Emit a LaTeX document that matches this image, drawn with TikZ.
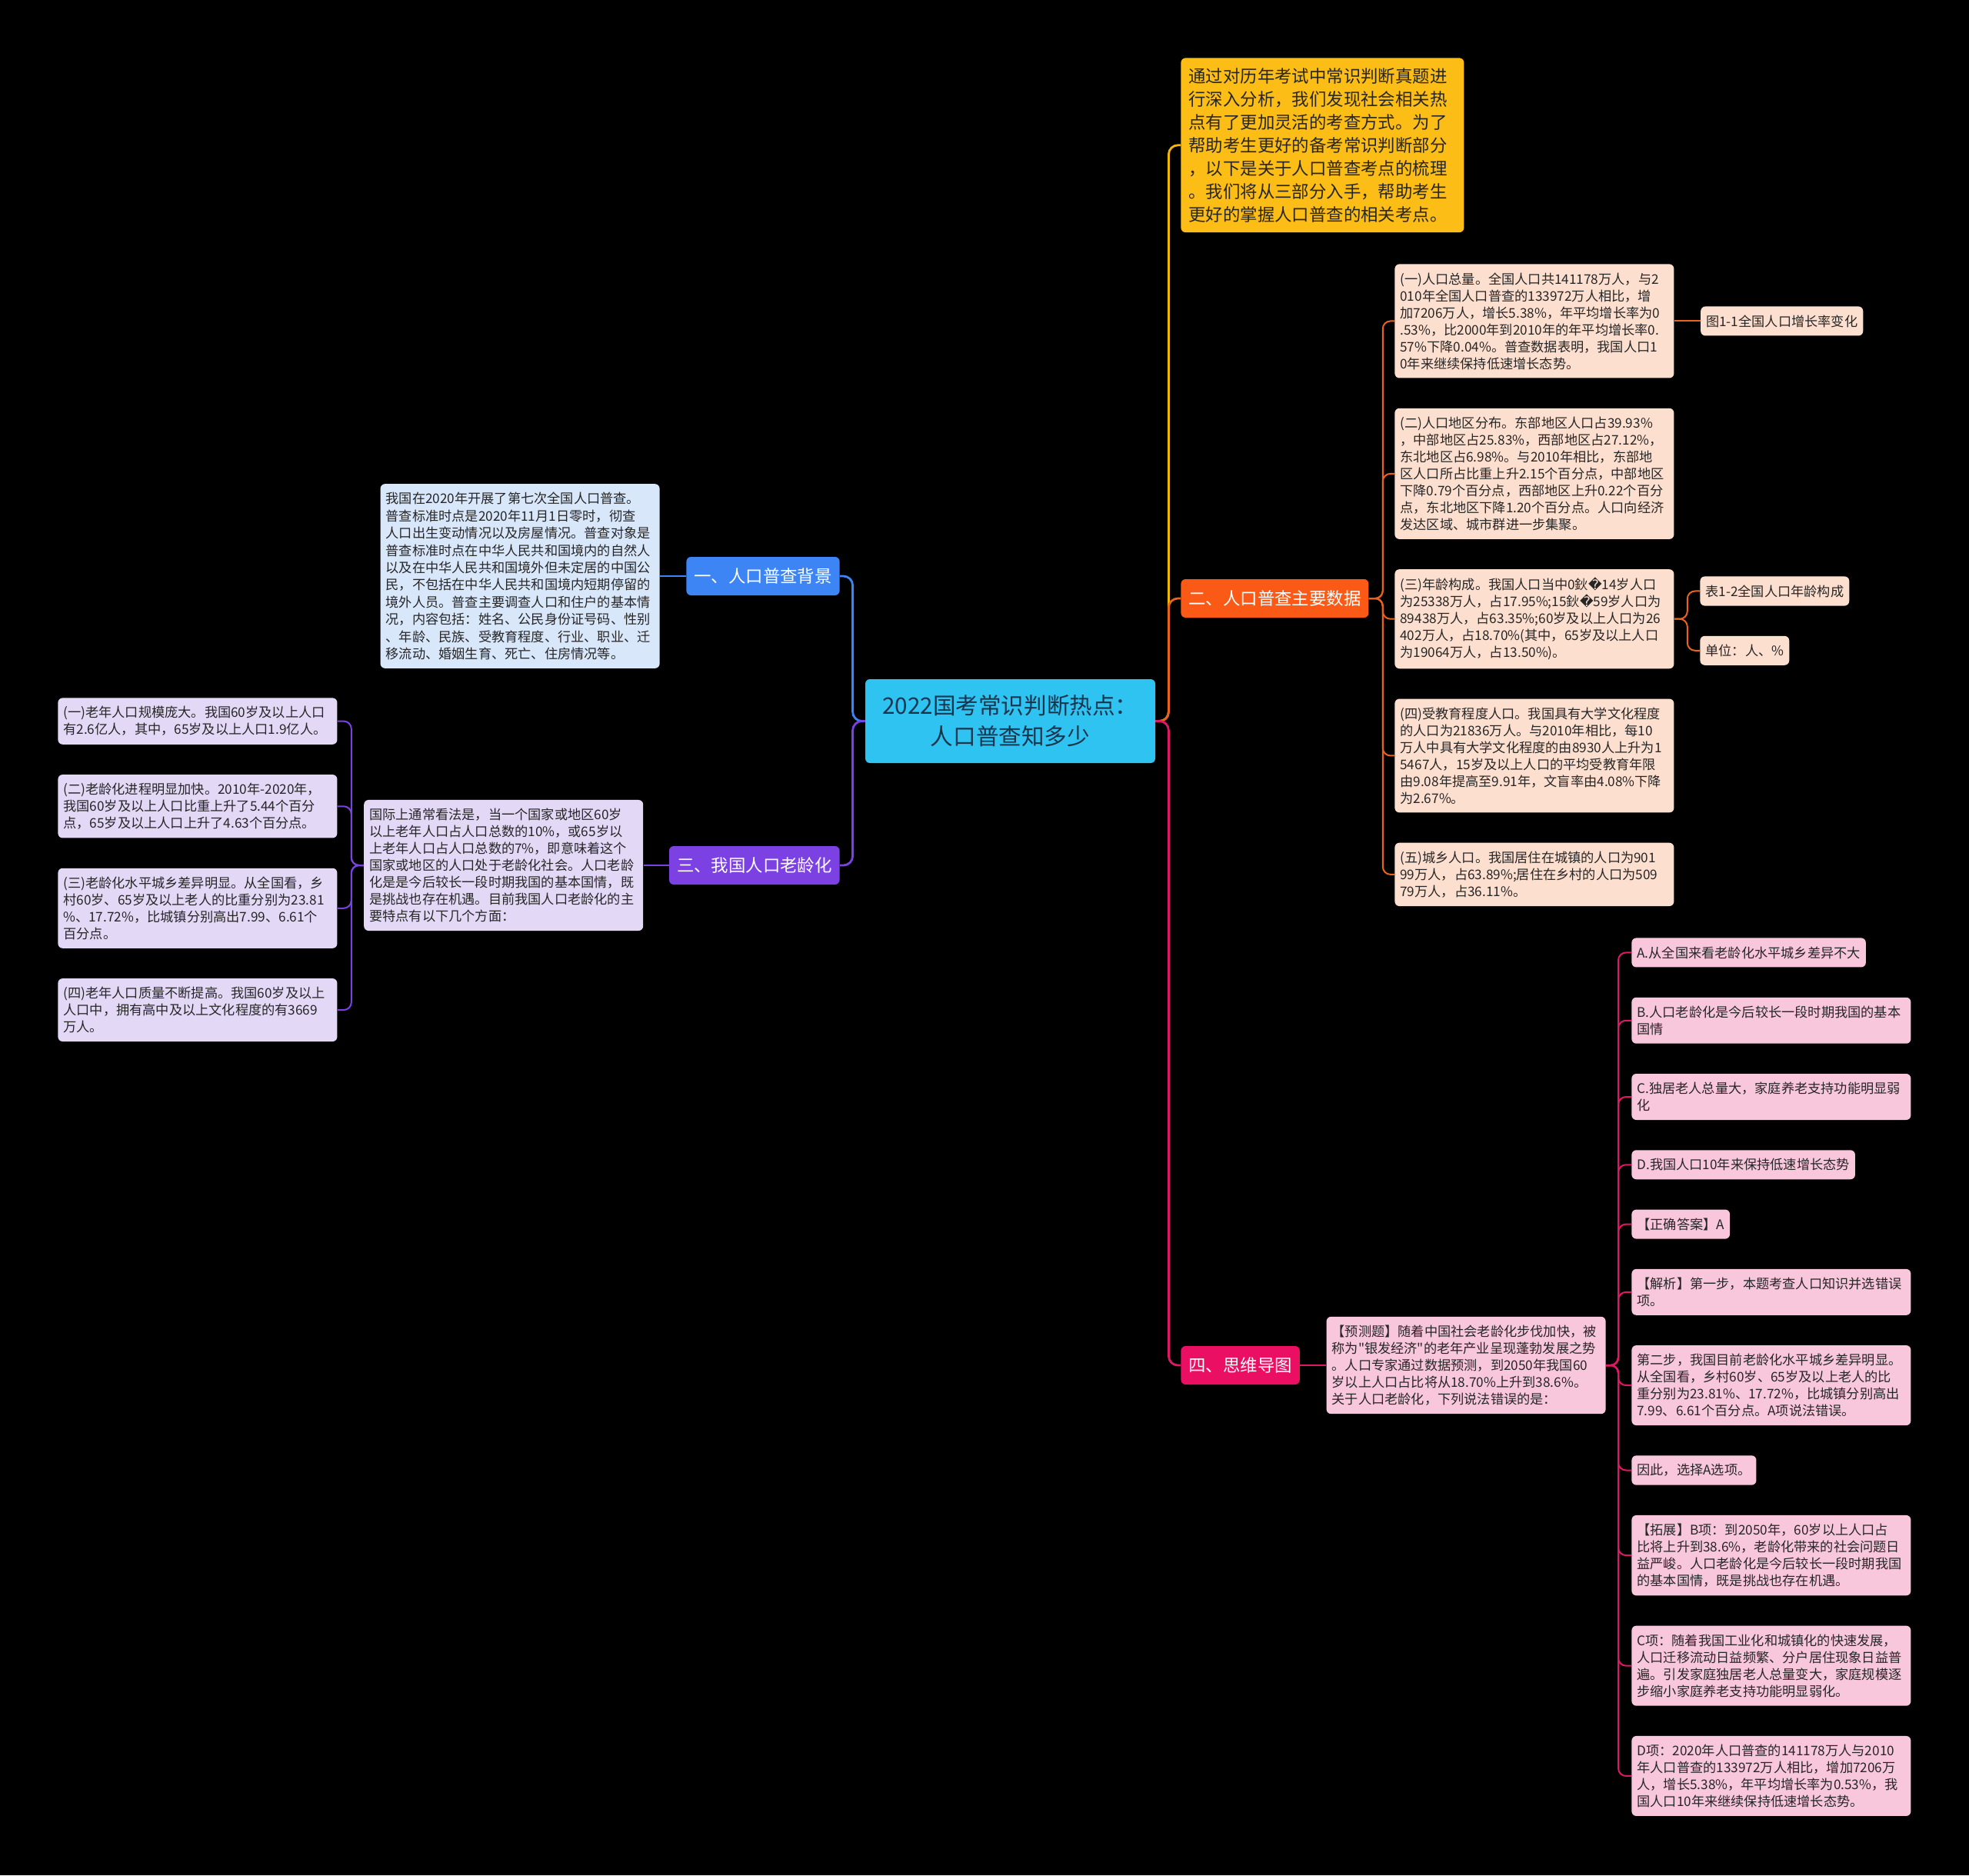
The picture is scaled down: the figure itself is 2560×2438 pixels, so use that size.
\documentclass[tikz,border=0pt]{standalone}
\usepackage{fontspec}
\setmainfont{Noto Sans CJK SC}[Ligatures=TeXOff]
\newfontfamily\symfont{DejaVu Sans}
\usepackage{xcolor}
\usetikzlibrary{positioning}

\definecolor{rootfill}{HTML}{2FC3F2}
\definecolor{roottext}{HTML}{17354C}
\definecolor{introfill}{HTML}{FBBD16}
\definecolor{introline}{HTML}{F2B705}
\definecolor{bluetopic}{HTML}{3D84F5}
\definecolor{bluenote}{HTML}{D9E7FB}
\definecolor{orangetopic}{HTML}{FA5A16}
\definecolor{orangenote}{HTML}{FDDFCF}
\definecolor{orangeline}{HTML}{E8631E}
\definecolor{purpletopic}{HTML}{7C41E3}
\definecolor{purplenote}{HTML}{E4D8F7}
\definecolor{pinktopic}{HTML}{EA0F63}
\definecolor{pinknote}{HTML}{F9C7DC}
\definecolor{pinkline}{HTML}{DC1867}
\definecolor{notetext}{HTML}{262626}

\newcommand{\badchar}{{\symfont\char"FFFD}}

\begin{document}
\begin{tikzpicture}[x=0.5pt, y=-0.5pt, node distance=19.25pt,
    root/.style={rectangle, rounded corners=3pt, fill=rootfill, text=roottext, minimum width=188.5pt, minimum height=54.5pt, align=center, font=\fontsize{14.8}{20}\selectfont},
    topic/.style={rectangle, rounded corners=3pt, text=white, minimum height=25pt, inner xsep=5pt, font=\fontsize{11.2}{13}\selectfont},
    note/.style={rectangle, rounded corners=3pt, text=notetext, align=left, inner xsep=3.5pt, inner ysep=5.5pt, font=\fontsize{8.6}{11}\selectfont},
    wide/.style={note, text width=174.5pt},
    link/.style={line width=1pt, rounded corners=5pt},
    trunk/.style={line width=1.4pt, rounded corners=6pt}]

    \fill[black] (0,0) rectangle (2560,2438);

    \node[root] (root) at (1313.5,937.5) {2022国考常识判断热点：\\人口普查知多少};

    % right side
    \node[note, fill=introfill, text width=174pt, inner xsep=5pt, inner ysep=6.5pt, font=\fontsize{11.2}{15}\selectfont, anchor=north west] (intro) at (1535,75) {通过对历年考试中常识判断真题进\\行深入分析，我们发现社会相关热\\点有了更加灵活的考查方式。为了\\帮助考生更好的备考常识判断部分\\，以下是关于人口普查考点的梳理\\。我们将从三部分入手，帮助考生\\更好的掌握人口普查的相关考点。};

    \node[topic, fill=orangetopic, anchor=west] (datatopic) at (1535,778) {二、人口普查主要数据};
    \node[wide, fill=orangenote, anchor=north west] (d1) at (1813,343) {(一)人口总量。全国人口共141178万人，与2\\010年全国人口普查的133972万人相比，增\\加7206万人，增长5.38\%，年平均增长率为0\\.53\%，比2000年到2010年的年平均增长率0.\\57\%下降0.04\%。普查数据表明，我国人口1\\0年来继续保持低速增长态势。};
    \node[wide, fill=orangenote, below=of d1.south west, anchor=north west] (d2) {(二)人口地区分布。东部地区人口占39.93\%\\，中部地区占25.83\%，西部地区占27.12\%，\\东北地区占6.98\%。与2010年相比，东部地\\区人口所占比重上升2.15个百分点，中部地区\\下降0.79个百分点，西部地区上升0.22个百分\\点，东北地区下降1.20个百分点。人口向经济\\发达区域、城市群进一步集聚。};
    \node[wide, fill=orangenote, below=of d2.south west, anchor=north west] (d3) {(三)年龄构成。我国人口当中0鈥\badchar14岁人口\\为25338万人，占17.95\%;15鈥\badchar59岁人口为\\89438万人，占63.35\%;60岁及以上人口为26\\402万人，占18.70\%(其中，65岁及以上人口\\为19064万人，占13.50\%)。};
    \node[wide, fill=orangenote, below=of d3.south west, anchor=north west] (d4) {(四)受教育程度人口。我国具有大学文化程度\\的人口为21836万人。与2010年相比，每10\\万人中具有大学文化程度的由8930人上升为1\\5467人，15岁及以上人口的平均受教育年限\\由9.08年提高至9.91年，文盲率由4.08\%下降\\为2.67\%。};
    \node[wide, fill=orangenote, below=of d4.south west, anchor=north west] (d5) {(五)城乡人口。我国居住在城镇的人口为901\\99万人，占63.89\%;居住在乡村的人口为509\\79万人，占36.11\%。};
    \node[note, fill=orangenote, right=17pt of d1] (fig1) {图1-1全国人口增长率变化};
    \node[note, fill=orangenote, anchor=north west] (tab2) at (2210,749) {表1-2全国人口年龄构成};
    \node[note, fill=orangenote, below=of tab2.south west, anchor=north west] (unit) {单位：人、\%};

    \node[topic, fill=pinktopic, anchor=west] (quiztopic) at (1535,1775) {四、思维导图};
    \node[wide, fill=pinknote, right=17pt of quiztopic] (quiz) {【预测题】随着中国社会老龄化步伐加快，被\\称为"银发经济"的老年产业呈现蓬勃发展之势\\。人口专家通过数据预测，到2050年我国60\\岁以上人口占比将从18.70\%上升到38.6\%。\\关于人口老龄化，下列说法错误的是：};
    \node[note, fill=pinknote, anchor=north west] (q1) at (2121,1219) {A.从全国来看老龄化水平城乡差异不大};
    \node[wide, fill=pinknote, below=of q1.south west, anchor=north west] (q2) {B.人口老龄化是今后较长一段时期我国的基本\\国情};
    \node[wide, fill=pinknote, below=of q2.south west, anchor=north west] (q3) {C.独居老人总量大，家庭养老支持功能明显弱\\化};
    \node[note, fill=pinknote, below=of q3.south west, anchor=north west] (q4) {D.我国人口10年来保持低速增长态势};
    \node[note, fill=pinknote, below=of q4.south west, anchor=north west] (q5) {【正确答案】A};
    \node[wide, fill=pinknote, below=of q5.south west, anchor=north west] (q6) {【解析】第一步，本题考查人口知识并选错误\\项。};
    \node[wide, fill=pinknote, below=of q6.south west, anchor=north west] (q7) {第二步，我国目前老龄化水平城乡差异明显。\\从全国看，乡村60岁、65岁及以上老人的比\\重分别为23.81\%、17.72\%，比城镇分别高出\\7.99、6.61个百分点。A项说法错误。};
    \node[note, fill=pinknote, below=of q7.south west, anchor=north west] (q8) {因此，选择A选项。};
    \node[wide, fill=pinknote, below=of q8.south west, anchor=north west] (q9) {【拓展】B项：到2050年，60岁以上人口占\\比将上升到38.6\%，老龄化带来的社会问题日\\益严峻。人口老龄化是今后较长一段时期我国\\的基本国情，既是挑战也存在机遇。};
    \node[wide, fill=pinknote, below=of q9.south west, anchor=north west] (q10) {C项：随着我国工业化和城镇化的快速发展，\\人口迁移流动日益频繁、分户居住现象日益普\\遍。引发家庭独居老人总量变大，家庭规模逐\\步缩小家庭养老支持功能明显弱化。};
    \node[wide, fill=pinknote, below=of q10.south west, anchor=north west] (q11) {D项：2020年人口普查的141178万人与2010\\年人口普查的133972万人相比，增加7206万\\人，增长5.38\%，年平均增长率为0.53\%，我\\国人口10年来继续保持低速增长态势。};

    % left side
    \node[topic, fill=bluetopic, anchor=east] (bgtopic) at (1092,749) {一、人口普查背景};
    \node[wide, fill=bluenote, font=\fontsize{8.6}{11.2}\selectfont, left=17pt of bgtopic] (bgnote) {我国在2020年开展了第七次全国人口普查。\\普查标准时点是2020年11月1日零时，彻查\\人口出生变动情况以及房屋情况。普查对象是\\普查标准时点在中华人民共和国境内的自然人\\以及在中华人民共和国境外但未定居的中国公\\民，不包括在中华人民共和国境内短期停留的\\境外人员。普查主要调查人口和住户的基本情\\况，内容包括：姓名、公民身份证号码、性别\\、年龄、民族、受教育程度、行业、职业、迁\\移流动、婚姻生育、死亡、住房情况等。};

    \node[topic, fill=purpletopic, anchor=east] (agetopic) at (1092,1125) {三、我国人口老龄化};
    \node[wide, fill=purplenote, left=16.5pt of agetopic] (agenote) {国际上通常看法是，当一个国家或地区60岁\\以上老年人口占人口总数的10\%，或65岁以\\上老年人口占人口总数的7\%，即意味着这个\\国家或地区的人口处于老龄化社会。人口老龄\\化是是今后较长一段时期我国的基本国情，既\\是挑战也存在机遇。目前我国人口老龄化的主\\要特点有以下几个方面：};
    \node[wide, fill=purplenote, anchor=north west] (a1) at (75,907) {(一)老年人口规模庞大。我国60岁及以上人口\\有2.6亿人，其中，65岁及以上人口1.9亿人。};
    \node[wide, fill=purplenote, below=of a1.south west, anchor=north west] (a2) {(二)老龄化进程明显加快。2010年-2020年，\\我国60岁及以上人口比重上升了5.44个百分\\点，65岁及以上人口上升了4.63个百分点。};
    \node[wide, fill=purplenote, below=of a2.south west, anchor=north west] (a3) {(三)老龄化水平城乡差异明显。从全国看，乡\\村60岁、65岁及以上老人的比重分别为23.81\\\%、17.72\%，比城镇分别高出7.99、6.61个\\百分点。};
    \node[wide, fill=purplenote, below=of a3.south west, anchor=north west] (a4) {(四)老年人口质量不断提高。我国60岁及以上\\人口中，拥有高中及以上文化程度的有3669\\万人。};

    % connectors
    \draw[trunk, introline] (root.east) -- ++(17,0) |- (intro.west);
    \draw[trunk, orangeline] (root.east) -- ++(17,0) |- (datatopic.west);
    \draw[trunk, pinkline] (root.east) -- ++(17,0) |- (quiztopic.west);
    \draw[trunk, bluetopic] (root.west) -- ++(-16,0) |- (bgtopic.east);
    \draw[trunk, purpletopic] (root.west) -- ++(-16,0) |- (agetopic.east);

    \foreach \c in {d1,d2,d3,d4,d5}
        \draw[link, orangeline] (datatopic.east) -- ++(18,0) |- (\c.west);
    \draw[link, orangeline] (d1.east) -- (fig1.west);
    \foreach \c in {tab2,unit}
        \draw[link, orangeline] (d3.east) -- ++(17,0) |- (\c.west);

    \draw[link, pinkline] (quiztopic.east) -- (quiz.west);
    \foreach \c in {q1,q2,q3,q4,q5,q6,q7,q8,q9,q10,q11}
        \draw[link, pinkline] (quiz.east) -- ++(16,0) |- (\c.west);

    \draw[link, bluetopic] (bgtopic.west) -- (bgnote.east);
    \draw[link, purpletopic] (agetopic.west) -- (agenote.east);
    \foreach \c in {a1,a2,a3,a4}
        \draw[link, purpletopic] (agenote.west) -- ++(-16,0) |- (\c.east);
\end{tikzpicture}
\end{document}
